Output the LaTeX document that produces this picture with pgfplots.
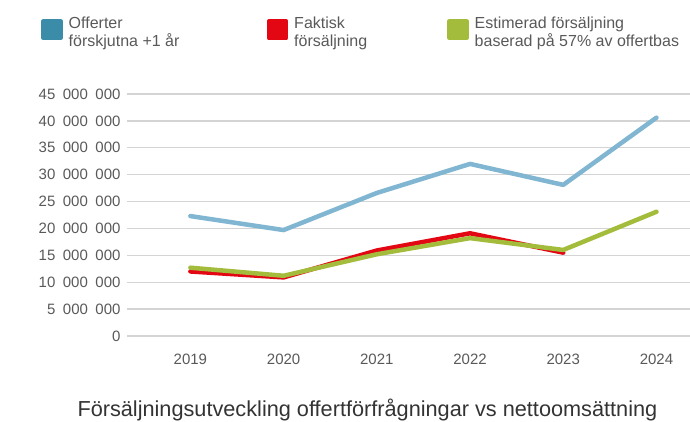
\documentclass[border=0pt]{standalone}
\usepackage{fontspec}
\setmainfont{Liberation Sans}
\usepackage{pgfplots}
\pgfplotsset{compat=1.18}
\definecolor{offblue}{HTML}{80B6D1}
\definecolor{legblue}{HTML}{3A8CA8}
\definecolor{fred}{HTML}{E30613}
\definecolor{fgreen}{HTML}{A3BC3C}
\definecolor{gridc}{HTML}{D4D4D4}
\definecolor{txt}{HTML}{595959}
\newcommand{\gs}{\hspace{0.5em}}
\begin{document}
\begin{tikzpicture}[x=1pt,y=1pt]
\useasboundingbox (0,0) rectangle (690,421);
\begin{axis}[
  at={(127pt,85pt)}, anchor=south west,
  scale only axis, width=563pt, height=242pt,
  xmin=-0.68, xmax=5.36, ymin=0, ymax=45000000,
  xtick={0,1,2,3,4,5}, xticklabels={2019,2020,2021,2022,2023,2024},
  ytick={0,5000000,10000000,15000000,20000000,25000000,30000000,35000000,40000000,45000000},
  yticklabels={0,5\gs000\gs000,10\gs000\gs000,15\gs000\gs000,20\gs000\gs000,25\gs000\gs000,30\gs000\gs000,35\gs000\gs000,40\gs000\gs000,45\gs000\gs000},
  scaled y ticks=false,
  ymajorgrids, grid style={gridc, line width=1.3pt},
  axis line style={draw=none}, tick style={draw=none},
  yticklabel style={font=\fontsize{15}{17}\selectfont, text=txt, xshift=-3pt},
  xticklabel style={font=\fontsize{15}{17}\selectfont, text=txt, yshift=-14pt},
  xlabel={Försäljningsutveckling offertförfrågningar vs nettoomsättning},
  xlabel style={at={(axis description cs:0.427,0)}, anchor=base, yshift=-80pt, font=\fontsize{21.7}{24}\selectfont, text=black!80},
  legend columns=3,
  legend style={at={(axis description cs:-0.158,1.3264)}, anchor=north west, draw=none, fill=none,
    nodes={inner sep=0pt, text=txt, font=\fontsize{16}{17.5}\selectfont},
    /tikz/every odd column/.append style={column sep=6pt}},
  clip=false,
]
\addplot[offblue, line width=4.5pt, line join=round, line cap=round,
  legend image code/.code={\fill[legblue] (0pt,-10pt) rectangle (17pt,7pt);}]
  coordinates {(0,22300000) (1,19700000) (2,26600000) (3,32000000) (4,28100000) (5,40600000)};
\addlegendentry{\parbox[c]{198pt}{Offerter\\förskjutna +1 år}}
\addplot[fred, line width=4.5pt, line join=round, line cap=round,
  legend image code/.code={\fill[fred] (0pt,-10pt) rectangle (17pt,7pt);}]
  coordinates {(0,12000000) (1,10900000) (2,15900000) (3,19100000) (4,15500000)};
\addlegendentry{\parbox[c]{153pt}{Faktisk\\försäljning}}
\addplot[fgreen, line width=4.5pt, line join=round, line cap=round,
  legend image code/.code={\fill[fgreen] (0pt,-10pt) rectangle (17pt,7pt);}]
  coordinates {(0,12700000) (1,11200000) (2,15200000) (3,18200000) (4,16000000) (5,23100000)};
\addlegendentry{\parbox[c]{206pt}{Estimerad försäljning\\baserad på 57\% av offertbas}}
\end{axis}
\end{tikzpicture}
\end{document}
